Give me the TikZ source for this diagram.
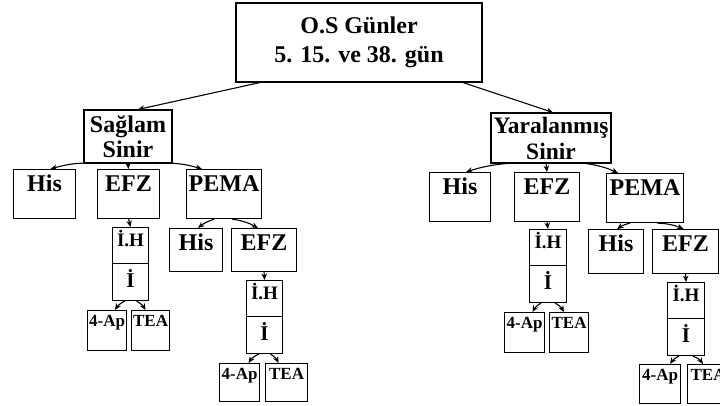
\documentclass[tikz,border=0pt]{standalone}
\usepackage{fontspec}
\setmainfont{Liberation Serif}
\usetikzlibrary{arrows.meta,calc}
\newcommand\fBig{\fontsize{24}{29}\selectfont\bfseries}
\newcommand\fMid{\fontsize{24}{25}\selectfont\bfseries}
\newcommand\fLH{\fontsize{19}{20}\selectfont\bfseries}
\newcommand\fI{\fontsize{21}{22}\selectfont\bfseries}
\newcommand\fSm{\fontsize{17}{19}\selectfont\bfseries}
\begin{document}
\begin{tikzpicture}[x=1pt,y=-1pt,
  bx/.style={draw,line width=1.1pt,inner sep=0pt,anchor=north west,align=center},
  cbx/.style={draw,line width=1.1pt,inner sep=0pt,align=center},
  arr/.style={line width=1.1pt,-{Stealth[length=6.5pt,width=5.5pt]}}]
\useasboundingbox (0,0) rectangle (720,406);
\clip (0,0) rectangle (720,406);
% top
\node[cbx,minimum width=246pt,minimum height=79pt,font=\fBig] (os) at (359,42.5) {O.S Günler\\5. 15. ve 38. gün};
\node[cbx,minimum width=88pt,minimum height=53pt,font=\fontsize{24}{25}\selectfont\bfseries] (ls) at (128,136.5) {Sağlam\\Sinir};
\node[cbx,minimum width=120pt,minimum height=50pt,font=\fontsize{23.5}{26}\selectfont\bfseries] (rs) at (551,138) {Yaralanmış\\Sinir};
% left side
\node[bx,minimum width=62pt,text height=22pt,text depth=27pt,font=\fMid] (lhis) at (13,169) {His};
\node[bx,minimum width=62pt,text height=22pt,text depth=27pt,font=\fMid] (lefz) at (97,169) {EFZ};
\node[bx,minimum width=75pt,text height=22pt,text depth=27pt,font=\fMid] (lpema) at (186,169) {PEMA};
\node[bx,minimum width=36pt,text height=19pt,text depth=17pt,font=\fLH] (llh) at (112,227) {İ.H};
\node[bx,minimum width=36pt,text height=24pt,text depth=13pt,font=\fI] (li) at (112,263) {İ};
\node[bx,minimum width=39pt,text height=16pt,text depth=24pt,font=\fSm] (lap) at (87,310) {4-Ap};
\node[bx,minimum width=38pt,text height=16pt,text depth=24pt,font=\fSm] (ltea) at (131,310) {TEA};
\node[bx,minimum width=53pt,text height=22pt,text depth=21pt,font=\fMid] (lhis2) at (169,228) {His};
\node[bx,minimum width=65pt,text height=22pt,text depth=21pt,font=\fMid] (lefz2) at (231,228) {EFZ};
\node[bx,minimum width=36pt,text height=19pt,text depth=17pt,font=\fLH] (llh2) at (246,280) {İ.H};
\node[bx,minimum width=36pt,text height=24pt,text depth=13pt,font=\fI] (li2) at (246,316) {İ};
\node[bx,minimum width=40pt,text height=16pt,text depth=22pt,font=\fSm] (lap2) at (219,363) {4-Ap};
\node[bx,minimum width=42pt,text height=16pt,text depth=22pt,font=\fSm] (ltea2) at (265,363) {TEA};
% right side
\node[bx,minimum width=61pt,text height=22pt,text depth=27pt,font=\fMid] (rhis) at (429,172) {His};
\node[bx,minimum width=65pt,text height=22pt,text depth=27pt,font=\fMid] (refz) at (514,172) {EFZ};
\node[bx,minimum width=77pt,text height=22pt,text depth=27pt,font=\fMid] (rpema) at (606,173) {PEMA};
\node[bx,minimum width=37pt,text height=19pt,text depth=17pt,font=\fLH] (rlh) at (529,229) {İ.H};
\node[bx,minimum width=37pt,text height=24pt,text depth=13pt,font=\fI] (ri) at (529,265) {İ};
\node[bx,minimum width=40pt,text height=16pt,text depth=24pt,font=\fSm] (rap) at (504,312) {4-Ap};
\node[bx,minimum width=39pt,text height=16pt,text depth=24pt,font=\fSm] (rtea) at (549,312) {TEA};
\node[bx,minimum width=55pt,text height=22pt,text depth=22pt,font=\fMid] (rhis2) at (588,229) {His};
\node[bx,minimum width=66pt,text height=22pt,text depth=22pt,font=\fMid] (refz2) at (652,229) {EFZ};
\node[bx,minimum width=37pt,text height=19pt,text depth=17pt,font=\fLH] (rlh2) at (667,282) {İ.H};
\node[bx,minimum width=37pt,text height=24pt,text depth=13pt,font=\fI] (ri2) at (667,318) {İ};
\node[bx,minimum width=41pt,text height=16pt,text depth=23pt,font=\fSm] (rap2) at (639,364) {4-Ap};
\node[bx,minimum width=41pt,text height=16pt,text depth=23pt,font=\fSm] (rtea2) at (687,364) {TEA};
% arrows top
\draw[arr] ([xshift=-99pt]os.south) -- ([xshift=10pt]ls.north);
\draw[arr] ([xshift=104pt]os.south) -- ([xshift=2pt]rs.north);
% left arrows
\draw[arr] ([xshift=-28pt]ls.south) to[bend right=10] ([xshift=6pt]lhis.north);
\draw[arr] (ls.south) -- (lefz.north);
\draw[arr] ([xshift=27pt]ls.south) to[bend left=10] ([xshift=-22pt]lpema.north);
\draw[arr] (lefz.south) -- (llh.north);
\draw[arr] ([xshift=-6pt]li.south) to[bend right=15] ([xshift=8pt]lap.north);
\draw[arr] ([xshift=6pt]li.south) to[bend left=15] ([xshift=-5pt]ltea.north);
\draw[arr] ([xshift=-10pt]lpema.south) to[bend right=10] ([xshift=2pt]lhis2.north);
\draw[arr] ([xshift=8pt]lpema.south) to[bend left=10] ([xshift=-6pt]lefz2.north);
\draw[arr] (lefz2.south) -- (llh2.north);
\draw[arr] ([xshift=-6pt]li2.south) to[bend right=15] ([xshift=9pt]lap2.north);
\draw[arr] ([xshift=6pt]li2.south) to[bend left=15] ([xshift=-8pt]ltea2.north);
% right arrows
\draw[arr] ([xshift=-45pt]rs.south) to[bend right=6] ([xshift=6pt]rhis.north);
\draw[arr] ([xshift=-5pt]rs.south) -- (refz.north);
\draw[arr] ([xshift=35pt]rs.south) to[bend left=8] ([xshift=-27pt]rpema.north);
\draw[arr] (refz.south) -- (rlh.north);
\draw[arr] ([xshift=-7pt]ri.south) to[bend right=15] ([xshift=8pt]rap.north);
\draw[arr] ([xshift=7pt]ri.south) to[bend left=15] ([xshift=-5pt]rtea.north);
\draw[arr] ([xshift=-15pt]rpema.south) to[bend right=10] ([xshift=1pt]rhis2.north);
\draw[arr] ([xshift=12pt]rpema.south) to[bend left=10] ([xshift=-2pt]refz2.north);
\draw[arr] (refz2.south) -- (rlh2.north);
\draw[arr] ([xshift=-7pt]ri2.south) to[bend right=15] ([xshift=10pt]rap2.north);
\draw[arr] ([xshift=7pt]ri2.south) to[bend left=15] ([xshift=-5pt]rtea2.north);
\end{tikzpicture}
\end{document}
